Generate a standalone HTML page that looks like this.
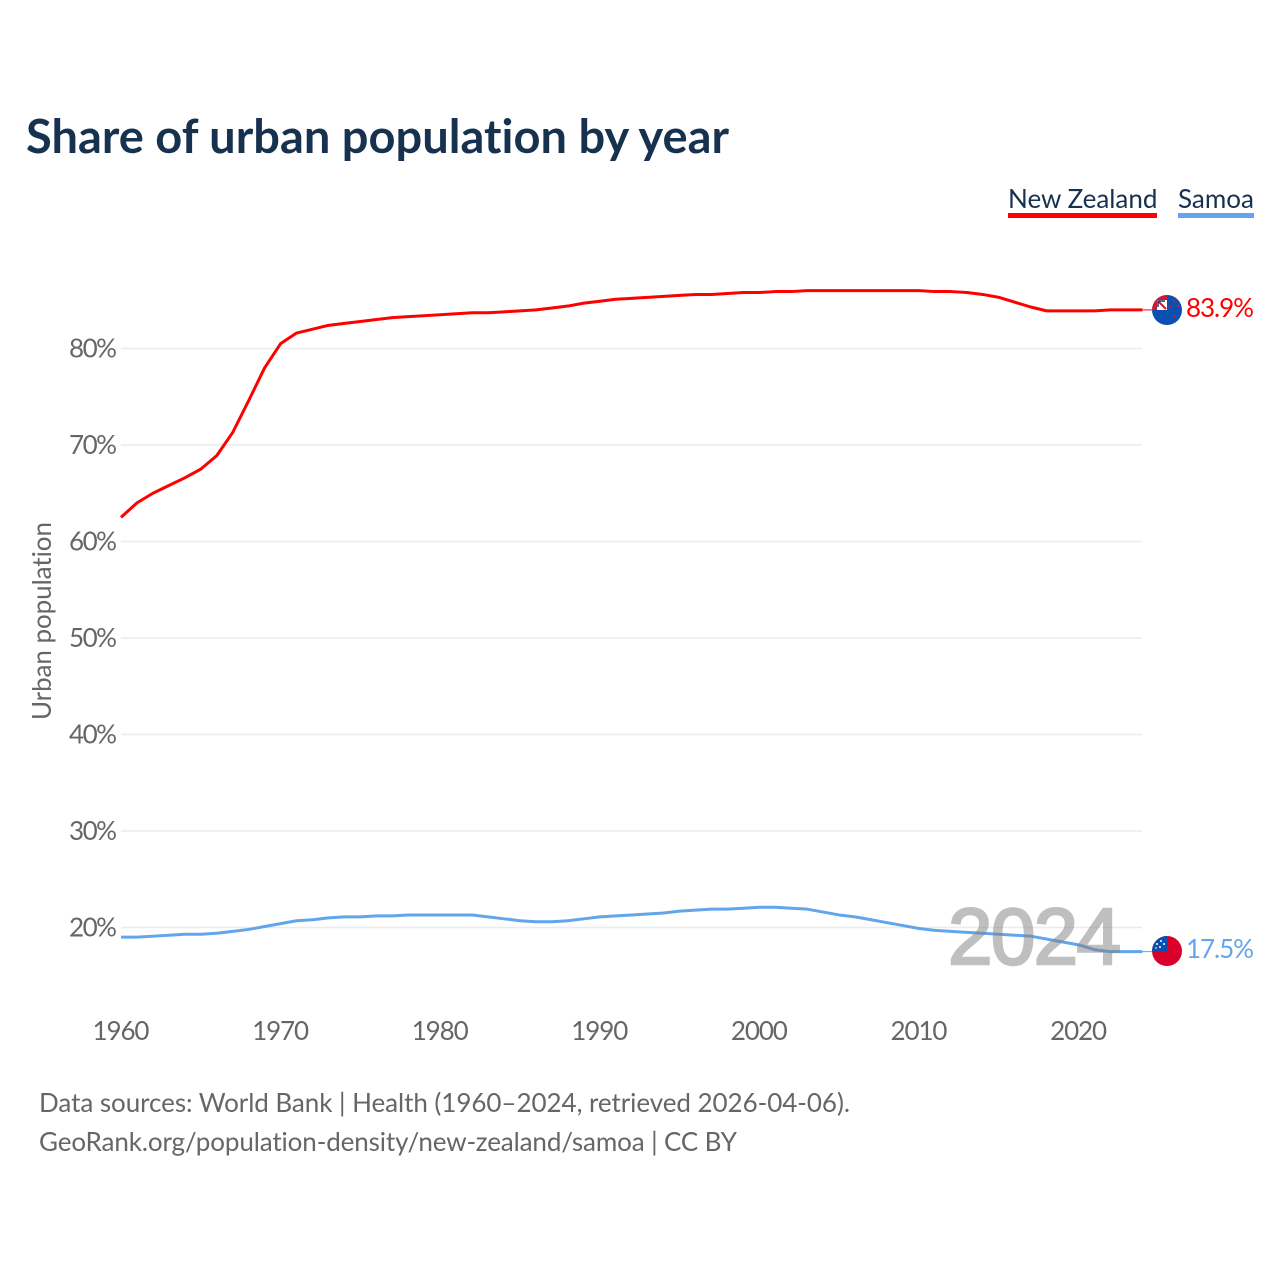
<!DOCTYPE html>
<html lang="en">
<head>
<meta charset="utf-8">
<title>Share of urban population by year</title>
<style>
html,body{margin:0;padding:0;background:#fff;width:1280px;height:1280px;overflow:hidden}
svg{display:block}
text{font-family:"Lato","Carlito","Liberation Sans",sans-serif;font-variant-ligatures:none}
</style>
</head>
<body>
<svg id="chart" width="1280" height="1280" viewBox="0 0 1280 1280" xmlns="http://www.w3.org/2000/svg">
<defs>
<clipPath id="clip-nz"><circle cx="1167" cy="310" r="15"/></clipPath>
<clipPath id="clip-ws"><circle cx="1167" cy="951" r="15"/></clipPath>
</defs>
<rect width="1280" height="1280" fill="#fff"/>
<text x="26" y="153" font-size="47" font-weight="700" fill="#17324f" textLength="703" lengthAdjust="spacing">Share of urban population by year</text>
<g>
<text x="1008" y="208" font-size="26" fill="#17324f">New Zealand</text>
<rect x="1008" y="213" width="149" height="5" fill="#ff0000"/>
<text x="1178" y="208" font-size="26" fill="#17324f">Samoa</text>
<rect x="1178" y="213" width="76" height="5" fill="#62a5ec"/>
</g>
<g id="grid"></g>
<g id="yticks"></g>
<g id="xticks"></g>
<text transform="translate(51,621) rotate(-90)" text-anchor="middle" font-size="26" fill="#666" textLength="198" lengthAdjust="spacing">Urban population</text>
<g id="series"></g>
<text x="948" y="964" font-size="80" style="font-family:'Liberation Sans',sans-serif" fill="#808080" stroke="#808080" stroke-width="2.5" opacity="0.5" textLength="173" lengthAdjust="spacing">2024</text>
<g clip-path="url(#clip-nz)">
<rect x="1152" y="295" width="30" height="30" fill="#0b4fb0"/>
<rect x="1152" y="295" width="15" height="15" fill="#fff"/>
<path d="M1152 295h15v5h-10v10h-5z" fill="#d2182f"/>
<path d="M1158 301l8 8" stroke="#d2182f" stroke-width="2"/>
<path d="M1158 307l0 -6 7 0" stroke="#0b3a80" stroke-width="1.5" fill="none"/>
<circle cx="1174" cy="301" r="1.2" fill="#d2182f"/><circle cx="1178" cy="306" r="1.2" fill="#d2182f"/><circle cx="1170" cy="307" r="1.2" fill="#d2182f"/><circle cx="1174" cy="316" r="1.2" fill="#d2182f"/>
</g>
<g clip-path="url(#clip-ws)">
<rect x="1152" y="936" width="30" height="30" fill="#da0029"/>
<rect x="1152" y="936" width="15" height="15" fill="#0b4fb0"/>
<circle cx="1161" cy="941" r="1" fill="#fff"/><circle cx="1157" cy="944" r="1" fill="#fff"/><circle cx="1164" cy="944" r="1" fill="#fff"/><circle cx="1160" cy="947" r="1" fill="#fff"/><circle cx="1156" cy="948" r="0.8" fill="#fff"/>
</g>
<text id="label-nz" x="1186" y="317" font-size="26" fill="#ff0000" textLength="68" lengthAdjust="spacing">83.9%</text>
<text id="label-ws" x="1186" y="958" font-size="26" fill="#62a5ec" textLength="68" lengthAdjust="spacing">17.5%</text>
<text x="39" y="1112" font-size="26" fill="#666" textLength="811" lengthAdjust="spacing">Data sources: World Bank | Health (1960–2024, retrieved 2026-04-06).</text>
<text x="39" y="1151" font-size="26" fill="#666" textLength="698" lengthAdjust="spacing">GeoRank.org/population-density/new-zealand/samoa | CC BY</text>
</svg>
<script>
const startYear = 1960;
const yTickValues = [20, 30, 40, 50, 60, 70, 80];
const xTickValues = [1960, 1970, 1980, 1990, 2000, 2010, 2020];
const newZealand = [62.5,64.0,65.0,65.8,66.6,67.5,68.9,71.3,74.6,78.0,80.5,81.6,82.0,82.4,82.6,82.8,83.0,83.2,83.3,83.4,83.5,83.6,83.7,83.7,83.8,83.9,84.0,84.2,84.4,84.7,84.9,85.1,85.2,85.3,85.4,85.5,85.6,85.6,85.7,85.8,85.8,85.9,85.9,86.0,86.0,86.0,86.0,86.0,86.0,86.0,86.0,85.9,85.9,85.8,85.6,85.3,84.8,84.3,83.9,83.9,83.9,83.9,84.0,84.0,84.0];
const samoa = [19.0,19.0,19.1,19.2,19.3,19.3,19.4,19.6,19.8,20.1,20.4,20.7,20.8,21.0,21.1,21.1,21.2,21.2,21.3,21.3,21.3,21.3,21.3,21.1,20.9,20.7,20.6,20.6,20.7,20.9,21.1,21.2,21.3,21.4,21.5,21.7,21.8,21.9,21.9,22.0,22.1,22.1,22.0,21.9,21.6,21.3,21.1,20.8,20.5,20.2,19.9,19.7,19.6,19.5,19.4,19.3,19.2,19.1,18.8,18.5,18.2,17.7,17.5,17.5,17.5];

const SVG_NS = 'http://www.w3.org/2000/svg';
const xScale = year => 121 + (year - 1960) * 15.96;
const yScale = value => 348.5 + (80 - value) * 9.65;

function make(tag, attrs, parent, text) {
  const el = document.createElementNS(SVG_NS, tag);
  for (const k in attrs) el.setAttribute(k, attrs[k]);
  if (text !== undefined) el.textContent = text;
  parent.appendChild(el);
  return el;
}

const grid = document.getElementById('grid');
const yticks = document.getElementById('yticks');
const xticks = document.getElementById('xticks');
const series = document.getElementById('series');

yTickValues.forEach(v => {
  const line = make('line', {x1: 121, x2: 1142, y1: yScale(v), y2: yScale(v), stroke: '#ebebeb', 'stroke-width': 1.5}, grid);
  
  
  const label = make('text', {x: 69, y: yScale(v) + 8.8, 'font-size': 26, fill: '#666', textLength: 48, lengthAdjust: 'spacing'}, yticks, v + '%');
  
  
});

xTickValues.forEach(year => {
  const label = make('text', {x: xScale(year) - 28.5, y: 1040, 'font-size': 26, fill: '#666', textLength: 57, lengthAdjust: 'spacing'}, xticks, String(year));
  
  
});

function drawSeries(values, color, name) {
  const d = values.map((v, i) => (i ? 'L' : 'M') + xScale(startYear + i).toFixed(2) + ' ' + yScale(v).toFixed(2)).join('');
  const path = make('path', {d: d, fill: 'none', stroke: color, 'stroke-width': 3, 'stroke-linejoin': 'round'}, series);
  
  
  const lastY = yScale(values[values.length - 1]);
  const leader = make('line', {x1: xScale(startYear + values.length - 1), x2: 1152, y1: lastY, y2: lastY, stroke: color, 'stroke-width': 1}, series);
  
  
}
drawSeries(newZealand, '#ff0000', 'line-new-zealand');
drawSeries(samoa, '#62a5ec', 'line-samoa');
</script>
</body>
</html>
